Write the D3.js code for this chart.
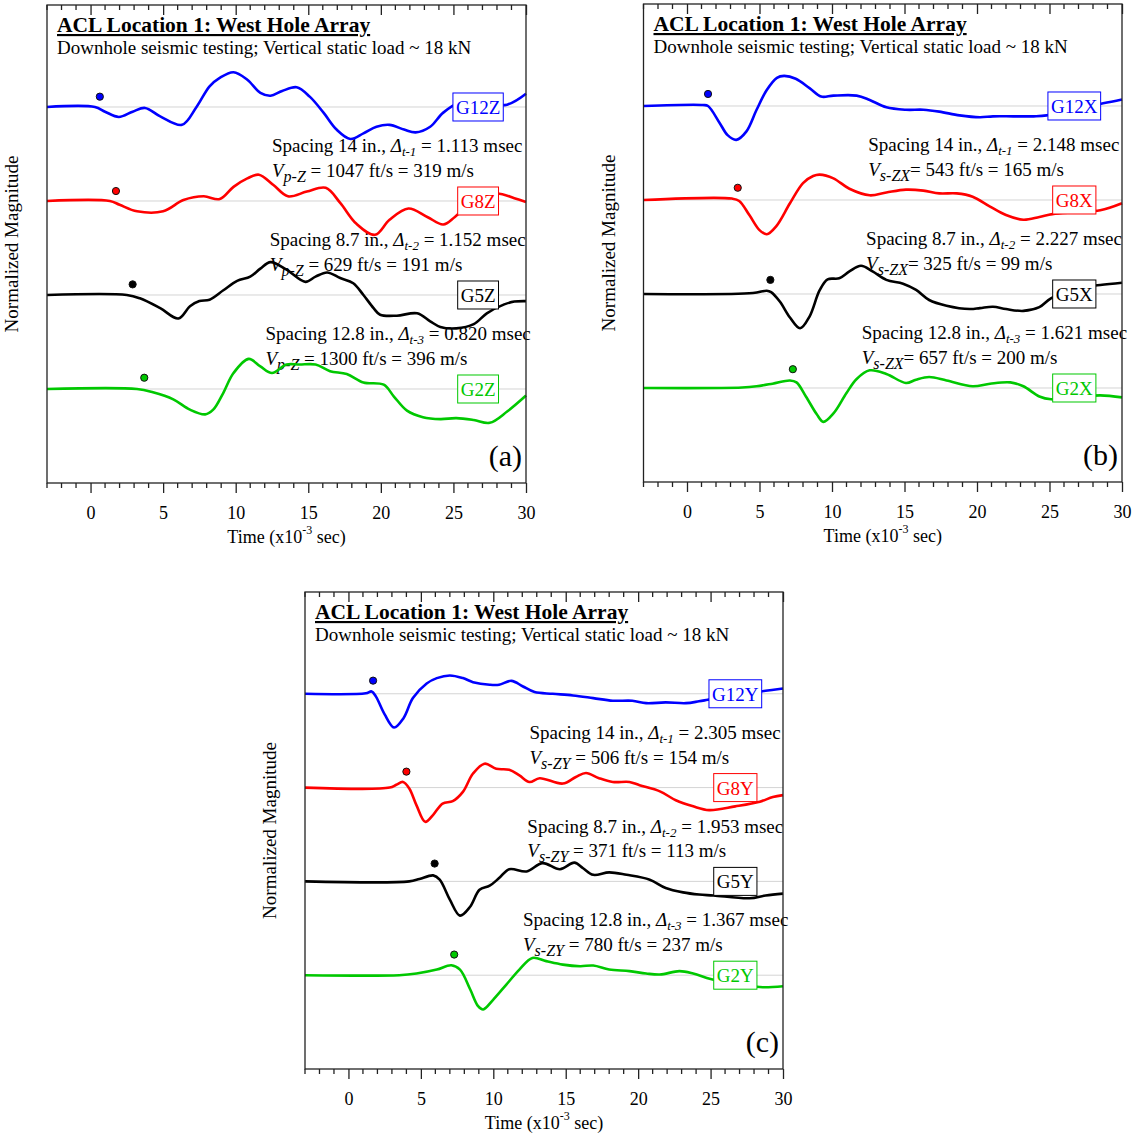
<!doctype html>
<html>
<head>
<meta charset="utf-8">
<style>
body { margin: 0; background: white; }
svg text { font-family: "Liberation Serif", "Times New Roman", serif; fill: black; }
</style>
<script src="https://cdnjs.cloudflare.com/ajax/libs/d3/7.8.5/d3.min.js"></script>
</head>
<body>
<div id="chart"></div>
<script>
// values: time in ms, amplitude in units of trace spacing
var timeTicks = [0, 5, 10, 15, 20, 25, 30];
var traceColors = ["#0000ff", "#ff0000", "#000000", "#00c800"];
var titleText = "ACL Location 1: West Hole Array";
var subtitleText = "Downhole seismic testing; Vertical static load ~ 18 kN";

var namesA = ["G12Z", "G8Z", "G5Z", "G2Z"];
var namesB = ["G12X", "G8X", "G5X", "G2X"];
var namesC = ["G12Y", "G8Y", "G5Y", "G2Y"];

// panel (a) - vertical component
var g12z = [[-3,0],[0.3,0],[1.0,-0.05],[1.95,-0.106],[2.9,-0.05],[3.75,-0.01],[4.8,-0.1],[6.3,-0.19],[7.3,0],[8.2,0.22],[8.9,0.31],[9.85,0.37],[10.8,0.29],[11.7,0.15],[12.4,0.12],[13.2,0.17],[14.2,0.21],[15.1,0.11],[16.05,-0.06],[16.95,-0.24],[17.9,-0.34],[18.8,-0.28],[19.7,-0.21],[20.6,-0.19],[21.6,-0.24],[22.4,-0.27],[23.4,-0.21],[24.3,-0.06],[25.5,0.05],[27,0.04],[28.7,0.025],[30,0.14]];
var g8z = [[-3,0],[1.33,0],[2.0,-0.04],[3.2,-0.11],[5.0,-0.11],[6.4,0.01],[7.8,0.05],[8.9,0.02],[9.85,0.15],[10.8,0.24],[11.6,0.28],[12.6,0.17],[13.6,0.05],[14.9,0.1],[16.2,0.14],[17.2,-0.02],[18.3,-0.24],[19.6,-0.36],[20.6,-0.2],[21.9,-0.08],[23.2,-0.17],[24.3,-0.25],[25.1,-0.17],[26.5,0.02],[28.0,0.08],[29.2,0.03],[30,-0.01]];
var g5z = [[-3,0],[2.5,0],[3.4,-0.035],[4.8,-0.14],[6.05,-0.25],[6.85,-0.12],[7.5,-0.065],[8.2,-0.05],[9.15,0.05],[10.1,0.15],[11.0,0.195],[11.7,0.28],[12.4,0.35],[13.5,0.27],[14.8,0.14],[15.5,0.195],[16.3,0.24],[17.2,0.18],[18.1,0.125],[18.8,0],[19.5,-0.14],[19.95,-0.21],[21.1,-0.22],[22.5,-0.195],[23.4,-0.28],[24.1,-0.34],[25.2,-0.355],[26.4,-0.31],[27.3,-0.195],[28.5,-0.1],[29.2,-0.07],[30,-0.065]];
var g2z = [[-3,0],[3.2,0],[4.3,-0.035],[5.7,-0.11],[6.85,-0.22],[7.9,-0.27],[8.45,-0.22],[9.15,-0.04],[9.85,0.17],[10.9,0.32],[11.7,0.24],[12.5,0.17],[13.5,0.26],[14.4,0.26],[15.5,0.26],[16.5,0.19],[17.65,0.16],[18.8,0.07],[20.2,0.046],[20.9,-0.08],[21.8,-0.23],[22.9,-0.3],[24.1,-0.32],[25.2,-0.31],[26.4,-0.33],[27.5,-0.36],[28.7,-0.24],[30,-0.07]];

// panel (b) - horizontal X component
var g12x = [[-3,0],[1.1,0.01],[1.45,0],[2.25,-0.18],[2.8,-0.31],[3.4,-0.36],[4.1,-0.27],[4.8,-0.04],[5.5,0.17],[6.2,0.3],[6.7,0.32],[7.5,0.29],[8.45,0.19],[9.25,0.1],[10.1,0.11],[11.7,0.11],[12.6,0.064],[13.75,-0.014],[15.1,-0.04],[16.3,-0.04],[17.4,-0.06],[18.8,-0.1],[20.2,-0.12],[21.1,-0.11],[22.5,-0.11],[23.9,-0.11],[24.8,-0.1],[26.5,-0.03],[28.7,0.03],[30,0.07]];
var g8x = [[-3,0],[3.1,0.015],[3.6,-0.01],[4.3,-0.16],[5.0,-0.32],[5.5,-0.365],[6.15,-0.28],[7.1,-0.035],[8.0,0.18],[8.7,0.255],[9.15,0.27],[10.1,0.23],[11.2,0.12],[12.6,0.05],[13.75,0.08],[15.1,0.11],[16.3,0.1],[17.4,0.07],[18.6,0.07],[19.7,0.035],[20.9,-0.07],[22.0,-0.16],[23.2,-0.21],[24.3,-0.18],[25.2,-0.15],[26.8,-0.13],[28.5,-0.11],[30,-0.035]];
var g5x = [[-3,0],[4.55,0.01],[5.5,0.035],[5.8,0.02],[6.4,-0.08],[7.1,-0.25],[7.8,-0.365],[8.45,-0.24],[9.15,0.04],[9.7,0.156],[10.5,0.167],[11.2,0.24],[12.0,0.3],[12.8,0.24],[13.75,0.15],[14.9,0.11],[15.8,0.043],[16.7,-0.064],[17.9,-0.124],[19.5,-0.16],[20.2,-0.15],[21.1,-0.135],[22.0,-0.16],[23.2,-0.18],[24.3,-0.14],[25.1,-0.046],[26.8,0.06],[28.5,0.096],[30,0.12]];
var g2x = [[-3,0],[3.8,0.005],[4.8,0.018],[5.9,0.046],[7.1,0.08],[7.55,0.06],[8.2,-0.09],[8.95,-0.28],[9.4,-0.36],[10.1,-0.27],[11.0,-0.053],[11.7,0.096],[12.6,0.188],[13.75,0.15],[15.1,0.053],[15.8,0.089],[16.7,0.117],[17.9,0.08],[19.7,0.018],[20.9,0.046],[22.3,0.06],[23.2,0.018],[24.3,-0.09],[25.1,-0.12],[26.8,-0.1],[28.5,-0.078],[30,-0.1]];

// panel (c) - horizontal Y component
var g12y = [[-3,0],[1.2,0.005],[1.6,0.025],[1.9,-0.03],[2.5,-0.22],[3.15,-0.36],[3.8,-0.26],[4.45,-0.046],[5.4,0.11],[6.1,0.167],[7.0,0.195],[7.9,0.167],[8.6,0.124],[9.75,0.096],[10.4,0.096],[11.25,0.138],[12.05,0.078],[12.85,0.018],[14.1,0],[15.5,-0.018],[16.9,-0.046],[18.25,-0.074],[19.6,-0.074],[20.55,-0.1],[21.9,-0.092],[23.3,-0.1],[24.2,-0.08],[24.8,-0.064],[26.8,-0.01],[28.8,0.032],[30,0.057]];
var g8y = [[-3,0],[2.85,0],[3.3,0.03],[3.77,0.06],[4.2,-0.01],[4.7,-0.19],[5.3,-0.365],[5.85,-0.29],[6.5,-0.17],[7.2,-0.145],[7.9,-0.046],[8.6,0.15],[9.4,0.255],[10.2,0.2],[11.1,0.19],[11.8,0.13],[12.5,0.06],[13.2,0.1],[14.8,0.043],[15.7,0.113],[16.4,0.156],[17.3,0.1],[18.25,0.06],[19.4,0.06],[20.1,0.025],[21.5,-0.04],[22.6,-0.135],[23.8,-0.2],[24.9,-0.24],[26.7,-0.2],[28.4,-0.15],[29.3,-0.1],[30,-0.08]];
var g5y = [[-3,0],[4.2,0],[4.9,0.025],[5.85,0.064],[6.3,0.018],[7.0,-0.195],[7.7,-0.365],[8.4,-0.27],[9.05,-0.09],[9.75,-0.046],[10.4,0.035],[11.1,0.13],[12.3,0.106],[13.4,0.195],[14.6,0.13],[15.6,0.2],[16.2,0.14],[16.9,0.07],[18.0,0.096],[19.2,0.07],[20.8,0.018],[21.9,-0.07],[23.1,-0.117],[24.2,-0.14],[25.2,-0.15],[27.7,-0.18],[28.8,-0.15],[30,-0.13]];
var g2y = [[-3,0],[3.5,0],[4.7,0.018],[6.1,0.06],[7.1,0.106],[7.7,0.06],[8.4,-0.15],[8.95,-0.33],[9.3,-0.365],[10.0,-0.26],[10.9,-0.1],[11.8,0.06],[12.7,0.184],[13.65,0.15],[14.8,0.113],[16.0,0.096],[16.9,0.103],[18.0,0.06],[19.4,0.043],[20.55,0.018],[21.5,0.007],[22.85,0.043],[23.8,0.018],[25.0,-0.04],[26.8,-0.1],[28.6,-0.128],[30,-0.117]];

// picked arrivals: [time, height of marker above baseline]
var arrivalsA = [[0.64, 0.11], [1.75, 0.106], [2.9, 0.113], [3.7, 0.12]];
var arrivalsB = [[1.45, 0.128], [3.5, 0.13], [5.75, 0.15], [7.3, 0.2]];
var arrivalsC = [[1.7, 0.14], [4.0, 0.17], [5.95, 0.19], [7.3, 0.22]];

// annotations between receivers
var spacingIn = ["14", "8.7", "12.8"];
var deltaA = ["1.113", "1.152", "0.820"];
var deltaB = ["2.148", "2.227", "1.621"];
var deltaC = ["2.305", "1.953", "1.367"];
var velFtA = [1047, 629, 1300], velMA = [319, 191, 396];
var velFtB = [543, 325, 657], velMB = [165, 99, 200];
var velFtC = [506, 371, 780], velMC = [154, 113, 237];
var velSub = ["p-Z", "s-ZX", "s-ZY"];

var panels = [
  {left: 47, top: 5, right: 526, bottom: 483, letter: "(a)", names: namesA, traces: [g12z, g8z, g5z, g2z], arrivals: arrivalsA, delta: deltaA, velFt: velFtA, velM: velMA, sub: velSub[0], eqSpace: " = "},
  {left: 643.5, top: 4, right: 1122, bottom: 482, letter: "(b)", names: namesB, traces: [g12x, g8x, g5x, g2x], arrivals: arrivalsB, delta: deltaB, velFt: velFtB, velM: velMB, sub: velSub[1], eqSpace: "= "},
  {left: 305, top: 592, right: 783, bottom: 1069, letter: "(c)", names: namesC, traces: [g12y, g8y, g5y, g2y], arrivals: arrivalsC, delta: deltaC, velFt: velFtC, velM: velMC, sub: velSub[2], eqSpace: " = "}
];

var width = 1138, height = 1137;
var svg = d3.select("#chart").append("svg")
  .attr("width", width).attr("height", height);
svg.append("rect").attr("width", width).attr("height", height).attr("fill", "white");

panels.forEach(function (p) {
  var x = d3.scaleLinear().domain([-3, 30]).range([p.left, p.right]);
  var y = d3.scaleLinear().domain([-4.0, 1.085]).range([p.bottom, p.top]);
  var g = svg.append("g");

  // baselines
  p.traces.forEach(function (tr, i) {
    g.append("line")
      .attr("x1", x(-3)).attr("x2", x(30))
      .attr("y1", y(-i)).attr("y2", y(-i))
      .attr("stroke", "#d4d4d4").attr("stroke-width", 1);
  });

  // title
  g.append("text").attr("x", p.left + 10).attr("y", p.top + 27)
    .attr("font-size", 21.5).attr("font-weight", "bold")
    .attr("text-decoration", "underline").text(titleText);
  g.append("text").attr("x", p.left + 10).attr("y", p.top + 48.5)
    .attr("font-size", 19).text(subtitleText);

  // annotations
  var textX = [x(12.5), x(12.35), x(12.05)];
  for (var k = 0; k < 3; k++) {
    var t1 = g.append("text").attr("x", textX[k]).attr("y", y(-k - 0.48)).attr("font-size", 19);
    t1.append("tspan").text("Spacing " + spacingIn[k] + " in., ");
    t1.append("tspan").attr("font-style", "italic").text("\u0394");
    t1.append("tspan").attr("font-style", "italic").attr("font-size", 13).attr("dy", 4).text("t-" + (k + 1));
    t1.append("tspan").attr("dy", -4).text(" = " + p.delta[k] + " msec");

    var t2 = g.append("text").attr("x", textX[k]).attr("y", y(-k - 0.745)).attr("font-size", 19);
    t2.append("tspan").attr("font-style", "italic").text("V");
    t2.append("tspan").attr("font-style", "italic").attr("font-size", 16).attr("dy", 5).text(p.sub);
    t2.append("tspan").attr("dy", -5).text(p.eqSpace + p.velFt[k] + " ft/s = " + p.velM[k] + " m/s");
  }

  // traces
  var line = d3.line()
    .x(function (d) { return x(d[0]); })
    .y(function (d) { return y(d[1]); })
    .curve(d3.curveCatmullRom.alpha(0.5));
  p.traces.forEach(function (tr, i) {
    g.append("path")
      .datum(tr.map(function (d) { return [d[0], d[1] - i]; }))
      .attr("d", line)
      .attr("fill", "none")
      .attr("stroke", traceColors[i])
      .attr("stroke-width", 2.6)
      .attr("stroke-linejoin", "round");
  });

  // arrival markers
  p.arrivals.forEach(function (a, i) {
    g.append("circle")
      .attr("cx", x(a[0])).attr("cy", y(a[1] - i)).attr("r", 3.6)
      .attr("fill", traceColors[i]).attr("stroke", "#111").attr("stroke-width", 1);
  });

  // trace labels
  p.names.forEach(function (n, i) {
    var lab = g.append("text")
      .attr("x", x(26.7)).attr("y", y(-i) + 7)
      .attr("text-anchor", "middle").attr("font-size", 19)
      .style("fill", traceColors[i]).text(n);
    var bb = lab.node().getBBox();
    g.insert("rect", function () { return lab.node(); })
      .attr("x", bb.x - 3).attr("y", y(-i) - 14)
      .attr("width", bb.width + 6).attr("height", 28)
      .attr("fill", "white").attr("stroke", traceColors[i]).attr("stroke-width", 1);
  });

  // panel letter
  g.append("text").attr("x", p.right - 4).attr("y", p.bottom - 17)
    .attr("text-anchor", "end").attr("font-size", 30).text(p.letter);

  // frame
  g.append("rect")
    .attr("x", p.left).attr("y", p.top)
    .attr("width", p.right - p.left).attr("height", p.bottom - p.top)
    .attr("fill", "none").attr("stroke", "#222").attr("stroke-width", 1.3);

  // bottom axis: outward ticks, major every 5, minor every 1
  var bottomAxis = d3.axisBottom(x).tickValues(timeTicks).tickSize(10).tickPadding(13).tickFormat(d3.format("d"));
  var ax = g.append("g").attr("transform", "translate(0," + p.bottom + ")").call(bottomAxis);
  ax.select(".domain").remove();
  ax.selectAll("line").attr("stroke", "#222").attr("stroke-width", 1.3);
  ax.selectAll("text").attr("font-size", 18)
    .style("font-family", "'Liberation Serif', 'Times New Roman', serif").attr("fill", "black");
  var minor = d3.range(-3, 31).filter(function (v) { return v % 5 !== 0; });
  g.append("g").selectAll("line").data(minor).enter().append("line")
    .attr("x1", function (d) { return x(d); }).attr("x2", function (d) { return x(d); })
    .attr("y1", p.bottom).attr("y2", p.bottom + 5)
    .attr("stroke", "#222").attr("stroke-width", 1.3);

  // top axis: inward ticks
  var topAxis = d3.axisTop(x).tickValues(timeTicks).tickSize(-10).tickFormat("");
  var tx = g.append("g").attr("transform", "translate(0," + p.top + ")").call(topAxis);
  tx.select(".domain").remove();
  tx.selectAll("line").attr("stroke", "#222").attr("stroke-width", 1.3);
  g.append("g").selectAll("line").data(minor).enter().append("line")
    .attr("x1", function (d) { return x(d); }).attr("x2", function (d) { return x(d); })
    .attr("y1", p.top).attr("y2", p.top + 5)
    .attr("stroke", "#222").attr("stroke-width", 1.3);

  // axis titles
  var xt = g.append("text").attr("x", (p.left + p.right) / 2).attr("y", p.bottom + 60)
    .attr("text-anchor", "middle").attr("font-size", 18);
  xt.append("tspan").text("Time (x10");
  xt.append("tspan").attr("font-size", 12).attr("dy", -9).text("-3");
  xt.append("tspan").attr("dy", 9).text(" sec)");

  g.append("text")
    .attr("transform", "translate(" + (p.left - 29) + "," + ((p.top + p.bottom) / 2) + ") rotate(-90)")
    .attr("text-anchor", "middle").attr("font-size", 19)
    .text("Normalized Magnitude");
});
</script>
</body>
</html>
